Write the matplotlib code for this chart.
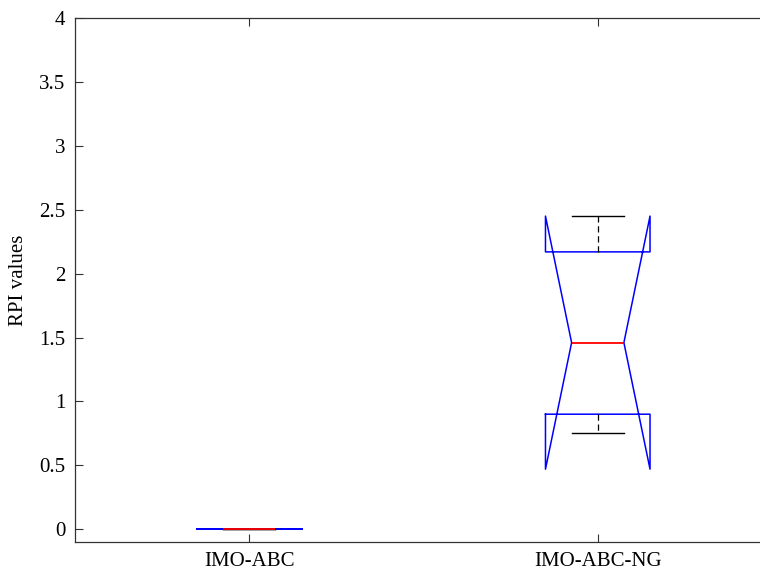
import matplotlib
matplotlib.use("Agg")
import matplotlib.pyplot as plt

# box statistics
labels = ["IMO-ABC", "IMO-ABC-NG"]
medians = [0.0, 1.46]
q1 = [0.0, 0.90]
q3 = [0.0, 2.17]
whislo = [0.0, 0.75]
whishi = [0.0, 2.45]
notch_lo = [0.0, 0.47]
notch_hi = [0.0, 2.45]

plt.rcParams['font.family'] = ['Liberation Serif', 'DejaVu Serif']

fig = plt.figure(figsize=(7.6, 5.72), dpi=100)
# axes run past the right edge of the picture, as in the reference
ax = fig.add_axes([75 / 760, 1 - 542 / 572, 697 / 760, 524 / 572])

stats = []
for i in range(len(labels)):
    stats.append({
        "label": labels[i],
        "med": medians[i],
        "q1": q1[i],
        "q3": q3[i],
        "whislo": whislo[i],
        "whishi": whishi[i],
        "cilo": notch_lo[i],
        "cihi": notch_hi[i],
        "fliers": [],
    })

ax.bxp(stats, positions=[1, 2], widths=0.3, shownotches=True,
       boxprops=dict(color="blue", linewidth=1.1),
       medianprops=dict(color="red", linewidth=1.3, zorder=5),
       whiskerprops=dict(color="black", linestyle=(0, (5, 3)), linewidth=0.9),
       capprops=dict(color="black", linewidth=1.0),
       showfliers=False)

ax.set_xlim(0.5, 2.5)
ax.set_ylim(-0.1, 4)
ax.set_yticks([0, 0.5, 1, 1.5, 2, 2.5, 3, 3.5, 4])
ax.set_yticklabels(["0", "0.5", "1", "1.5", "2", "2.5", "3", "3.5", "4"])
ax.set_xticks([1, 2])
ax.set_xticklabels(labels)
ax.set_ylabel("RPI values", fontsize=15, labelpad=8)

ax.tick_params(direction="in", length=6, width=0.8, labelsize=15,
               top=True, right=False, color="#333333", pad=7)
ax.spines["right"].set_visible(False)
for s in ax.spines.values():
    s.set_color("#333333")
    s.set_linewidth(0.9)

fig.savefig("out.png", dpi=100)
